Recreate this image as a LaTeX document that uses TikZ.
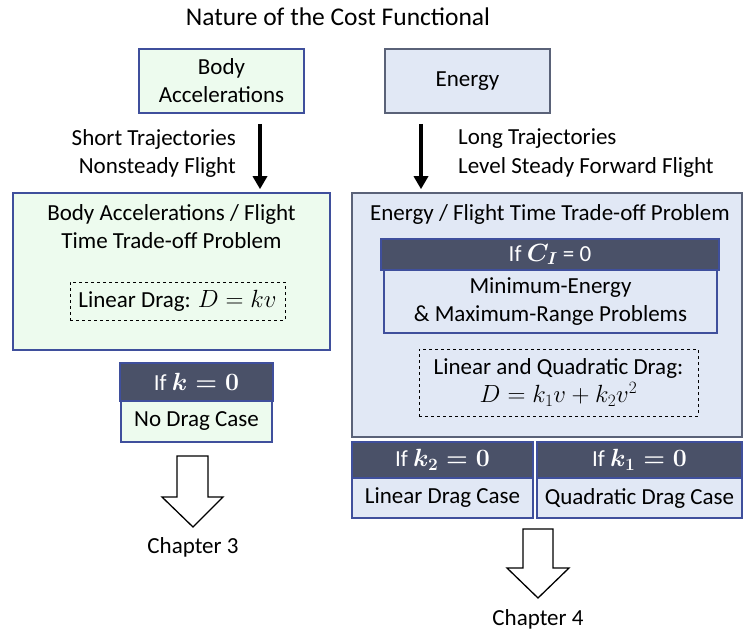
\documentclass[tikz,border=0pt]{standalone}
\usepackage{fontspec}
\setmainfont{Carlito}
\usetikzlibrary{arrows.meta,calc}
\definecolor{lgreen}{HTML}{EDFBEE}
\definecolor{lblue}{HTML}{E1E8F5}
\definecolor{bblue}{HTML}{3F4F9C}
\definecolor{gblue}{HTML}{5A6278}
\definecolor{dhead}{HTML}{4A5168}
\tikzset{
  txt/.style={font=\fontsize{23}{28}\selectfont, align=center, inner sep=0pt},
  boxg/.style={draw=bblue, line width=1.6pt, fill=lgreen, inner sep=0pt},
  boxb/.style={draw=gblue, line width=1.6pt, fill=lblue, inner sep=0pt},
  boxbb/.style={draw=bblue, line width=1.6pt, fill=lblue, inner sep=0pt},
  headbox/.style={draw=bblue, line width=1.6pt, fill=dhead, inner sep=0pt, text=white, font=\fontsize{23}{28}\selectfont\boldmath},
  dbox/.style={draw, dashed, line width=0.8pt, inner sep=0pt},
  sz/.style 2 args={minimum width=#1pt, minimum height=#2pt},
  arr/.style={line width=3.5pt, -{Triangle[length=13pt,width=14pt]}},
  hollow/.style={draw, line width=1.3pt, fill=white, line join=miter}
}
\begin{document}
\begin{tikzpicture}[x=1pt,y=-1pt]
\useasboundingbox (0,0) rectangle (744,634);
\node[txt, font=\fontsize{25.5}{30}\selectfont] (title) at (338,17) {Nature of the Cost Functional};
\node[boxg, sz={165}{64}, txt] (body) at (221.5,81) {Body\\Accelerations};
\node[boxb, sz={165}{64}, txt] (energy) at (467.5,81) {Energy};
\node[boxg, sz={317}{157}] (lbig) at (171.5,271.5) {};
\node[boxb, sz={390}{244}] (rbig) at (547,315) {};
\node[txt] (ltitle) at (171.5,227) {Body Accelerations / Flight\\Time Trade-off Problem};
\node[dbox, sz={215}{38}, txt] (ldash) at (177.5,301) {Linear Drag: $D=kv$};
\node[txt] (rtitle) at (550,214) {Energy / Flight Time Trade-off Problem};
\node[headbox, sz={338}{31}] (cih) at (550,254.5) {If $C_I$ = 0};
\node[boxbb, sz={333}{63}, txt] (cib) at (550.5,301.5) {Minimum-Energy\\\& Maximum-Range Problems};
\node[dbox, sz={279}{67}, txt] (rdash) at (558.5,382.5) {Linear and Quadratic Drag:\\$D=k_1v+k_2v^2$};
\node[headbox, sz={153}{38}] (kh) at (196.5,382) {If $k=0$};
\node[boxg, sz={151}{41}, txt] (kb) at (196.5,421.5) {No Drag Case};
\node[headbox, sz={181}{36}] (k2h) at (442.5,460) {If $k_2=0$};
\node[boxbb, sz={181}{40}, txt] (k2b) at (442.5,498) {Linear Drag Case};
\node[headbox, sz={205}{36}] (k1h) at (639.5,460) {If $k_1=0$};
\node[boxbb, sz={205}{40}, txt] (k1b) at (639.5,498) {Quadratic Drag Case};
% labels
\node[txt, anchor=east] (sl1) at (236,139) {Short Trajectories};
\node[txt, anchor=east] (sl2) at (236,167) {Nonsteady Flight};
\node[txt, anchor=west] (ll1) at (458,139) {Long Trajectories};
\node[txt, anchor=west] (ll2) at (458,167) {Level Steady Forward Flight};
% arrows
\coordinate (a1) at ($(body.south)+(38.5,10)$);
\coordinate (a2) at ($(a1 |- lbig.north)+(0,-3)$);
\draw[arr] (a1) -- (a2);
\coordinate (b1) at ($(energy.south)+(-46.5,10)$);
\coordinate (b2) at ($(b1 |- rbig.north)+(0,-3)$);
\draw[arr] (b1) -- (b2);
% hollow arrows
\draw[hollow] (177,456) -- (208,456) -- (208,497) -- (223,497) -- (193,527) -- (162,497) -- (177,497) -- cycle;
\node[txt] (ch3) at (193,547) {Chapter 3};
\draw[hollow] (523,529) -- (553,529) -- (553,568) -- (569,568) -- (538,598) -- (507,568) -- (523,568) -- cycle;
\node[txt] (ch4) at (538,619) {Chapter 4};
\end{tikzpicture}
\end{document}
